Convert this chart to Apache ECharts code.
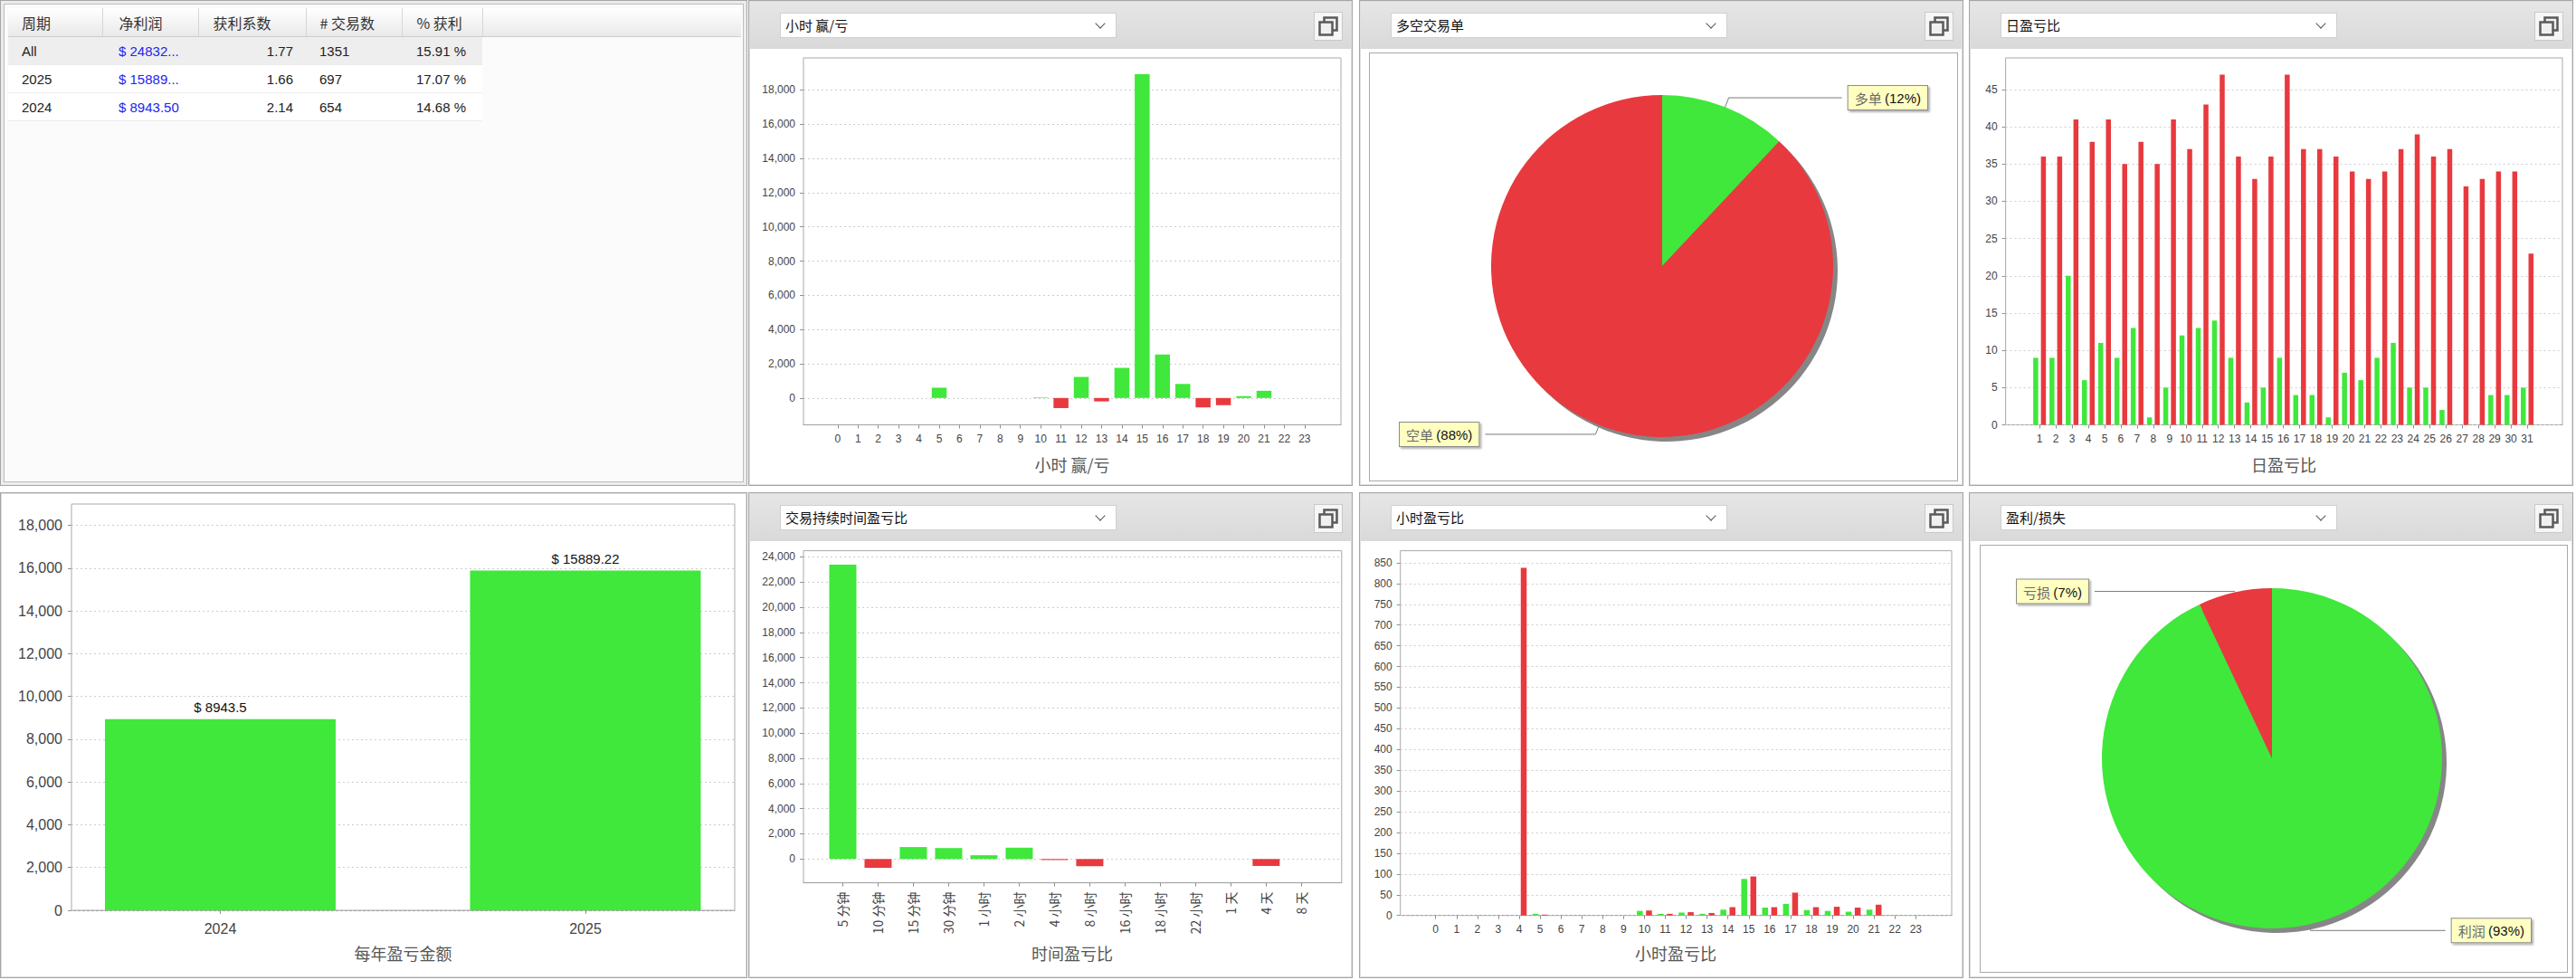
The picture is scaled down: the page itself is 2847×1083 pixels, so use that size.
<!DOCTYPE html>
<html>
<head>
<meta charset="utf-8">
<title>交易统计</title>
<script src="https://cdn.jsdelivr.net/npm/echarts@6.0.0/dist/echarts.min.js"></script>
<style>
  html, body { margin: 0; padding: 0; background: #fff; }
  body { width: 2847px; height: 1083px; position: relative; overflow: hidden;
         font-family: "Noto Sans CJK SC", "Liberation Sans", sans-serif; }
  .panel { position: absolute; box-sizing: border-box; border: 1px solid #a6a6a6;
           box-shadow: inset 0 0 0 1px #dedede; background: #fff; }
  .head { position: absolute; left: 1px; right: 1px; top: 1px; height: 52px;
          background: linear-gradient(#e6e6e6, #d9d9d9); }
  .dropdown { position: absolute; left: 34px; top: 13px; width: 372px; height: 28px; box-sizing: border-box;
              background: #fff; border: 1px solid #d0d0d0; font-size: 15px; line-height: 26px;
              padding-left: 5px; color: #111; }
  .dropdown .arrow { position: absolute; right: 13px; top: 7px; width: 7px; height: 7px;
                     border-right: 1px solid #555; border-bottom: 1px solid #555; transform: rotate(45deg); }
  .icon-btn { position: absolute; right: 10px; top: 12px; width: 32px; height: 32px; box-sizing: border-box;
              background: #f6f6f6; border: 1px solid #c9c9c9; }
  .chart { position: absolute; }
  .pie-box { position: absolute; border: 1px solid #a9a9a9; background: #fff; }
  #tablePanel { background: #fbfbfb; box-shadow: inset 0 0 0 3px #ececec, inset 0 0 0 4px #bdbdbd; }
  #stats { position: absolute; left: 8px; top: 8px; border-collapse: collapse; table-layout: fixed;
           font-size: 15px; color: #222; font-family: "Liberation Sans", "Noto Sans CJK SC", sans-serif; }
  #stats th { height: 31px; padding: 0; font-weight: normal; text-align: left; color: #333; font-size: 16px;
              font-family: "Noto Sans CJK SC", sans-serif;
              background: linear-gradient(#ffffff, #e9e9e9); border-right: 1px solid #d6d6d6;
              border-bottom: 1px solid #cdcdcd; }
  #stats th.fill { border-right: none; }
  #stats td { height: 30px; padding: 0; background: #fff; border-bottom: 1px solid #ececec; }
  #stats tr.sel td { background: #eeeeee; }
  #stats td.fill, #stats tr.sel td.fill { background: transparent; border-bottom: none; }
  #stats .c1 { padding-left: 15px; }
  #stats .c2 { padding-left: 18px; }
  #stats .c3 { padding-right: 14px; text-align: right; }
  #stats th.c3 { padding-left: 16px; padding-right: 0; text-align: left; }
  #stats .c4 { padding-left: 15px; }
  #stats .c5 { padding-left: 16px; }
  #stats td.c2 { color: #2424f0; }
</style>
</head>
<body>

<div class="panel" id="tablePanel" style="left:0;top:0;width:826px;height:537px">
  <table id="stats">
    <colgroup><col style="width:104px"><col style="width:106px"><col style="width:119px"><col style="width:106px"><col style="width:89px"><col style="width:286px"></colgroup>
    <thead><tr>
      <th class="c1">周期</th><th class="c2">净利润</th><th class="c3">获利系数</th><th class="c4"># 交易数</th><th class="c5">% 获利</th><th class="fill"></th>
    </tr></thead>
    <tbody id="statsBody"></tbody>
  </table>
</div>

<div class="panel" style="left:827px;top:0;width:668px;height:537px">
  <div class="head"></div>
  <div class="dropdown">小时 赢/亏<span class="arrow"></span></div>
  <div class="icon-btn"></div>
</div>
<div class="panel" style="left:1502px;top:0;width:668px;height:537px">
  <div class="head"></div>
  <div class="dropdown">多空交易单<span class="arrow"></span></div>
  <div class="icon-btn"></div>
</div>
<div class="panel" style="left:2176px;top:0;width:668px;height:537px">
  <div class="head"></div>
  <div class="dropdown">日盈亏比<span class="arrow"></span></div>
  <div class="icon-btn"></div>
</div>

<div class="panel" style="left:0;top:544px;width:826px;height:537px"></div>
<div class="panel" style="left:827px;top:544px;width:668px;height:537px">
  <div class="head"></div>
  <div class="dropdown">交易持续时间盈亏比<span class="arrow"></span></div>
  <div class="icon-btn"></div>
</div>
<div class="panel" style="left:1502px;top:544px;width:668px;height:537px">
  <div class="head"></div>
  <div class="dropdown">小时盈亏比<span class="arrow"></span></div>
  <div class="icon-btn"></div>
</div>
<div class="panel" style="left:2176px;top:544px;width:668px;height:537px">
  <div class="head"></div>
  <div class="dropdown">盈利/损失<span class="arrow"></span></div>
  <div class="icon-btn"></div>
</div>

<div class="chart" id="hourChart" style="left:827px;top:53px;width:668px;height:484px"></div>
<div class="pie-box" style="left:1513px;top:58px;width:649px;height:472px"><div class="chart" id="sideChart" style="left:0;top:0;width:649px;height:472px"></div></div>
<div class="chart" id="dayChart" style="left:2176px;top:53px;width:668px;height:484px"></div>
<div class="chart" id="yearChart" style="left:0;top:544px;width:826px;height:537px"></div>
<div class="chart" id="durChart" style="left:827px;top:597px;width:668px;height:484px"></div>
<div class="chart" id="hourRatioChart" style="left:1502px;top:597px;width:668px;height:484px"></div>
<div class="pie-box" style="left:2188px;top:602px;width:648px;height:471px"><div class="chart" id="plChart" style="left:0;top:0;width:648px;height:471px"></div></div>

<script>
  // 表格数据
  const tblPeriods = ['All', '2025', '2024'];
  const tblNetProfit = ['$ 24832...', '$ 15889...', '$ 8943.50'];
  const tblProfitFactor = ['1.77', '1.66', '2.14'];
  const tblTrades = ['1351', '697', '654'];
  const tblWinPct = ['15.91 %', '17.07 %', '14.68 %'];

  // 小时 赢/亏
  const hours = ['0', '1', '2', '3', '4', '5', '6', '7', '8', '9', '10', '11',
                 '12', '13', '14', '15', '16', '17', '18', '19', '20', '21', '22', '23'];
  const hourPnl = [0, 0, 0, 0, 0, 600, 0, 0, 0, 0, 30, -590,
                   1230, -200, 1760, 18920, 2540, 820, -550, -420, 110, 420, 0, 0];
  const pnlTicks = [0, 2000, 4000, 6000, 8000, 10000, 12000, 14000, 16000, 18000];

  // 多空交易单
  const sideNames = ['多单', '空单'];
  const sidePct = [12, 88];

  // 日盈亏比
  const days = ['1', '2', '3', '4', '5', '6', '7', '8', '9', '10', '11', '12', '13', '14', '15', '16',
                '17', '18', '19', '20', '21', '22', '23', '24', '25', '26', '27', '28', '29', '30', '31'];
  const dayWins = [9, 9, 20, 6, 11, 9, 13, 1, 5, 12, 13, 14, 9, 3, 5, 9,
                   4, 4, 1, 7, 6, 9, 11, 5, 5, 2, 0, 0, 4, 4, 5];
  const dayLosses = [36, 36, 41, 38, 41, 35, 38, 35, 41, 37, 43, 47, 36, 33, 36, 47,
                     37, 37, 36, 34, 33, 34, 37, 39, 36, 37, 32, 33, 34, 34, 23];
  const dayTicks = [0, 5, 10, 15, 20, 25, 30, 35, 40, 45];

  // 每年盈亏金额
  const years = ['2024', '2025'];
  const yearPnl = [8943.5, 15889.22];
  const yearTicks = [0, 2000, 4000, 6000, 8000, 10000, 12000, 14000, 16000, 18000];

  // 交易持续时间盈亏比
  const durations = ['5 分钟', '10 分钟', '15 分钟', '30 分钟', '1 小时', '2 小时', '4 小时',
                     '8 小时', '16 小时', '18 小时', '22 小时', '1 天', '4 天', '8 天'];
  const durationPnl = [23390, -700, 950, 870, 300, 900, -80, -570, 0, 0, 0, 0, -550, 0];
  const durTicks = [0, 2000, 4000, 6000, 8000, 10000, 12000, 14000, 16000, 18000, 20000, 22000, 24000];

  // 小时盈亏比
  const hourWins = [0, 0, 0, 0, 0, 4, 0, 0, 0, 0, 11, 4, 7, 4, 14, 88, 19, 28, 13, 11, 9, 14, 0, 0];
  const hourLosses = [0, 0, 0, 0, 838, 2, 0, 0, 0, 0, 12, 4, 8, 6, 20, 94, 20, 55, 20, 21, 19, 26, 0, 0];
  const ratioTicks = [0, 50, 100, 150, 200, 250, 300, 350, 400, 450, 500, 550, 600, 650, 700, 750, 800, 850];

  // 盈利/损失
  const plNames = ['利润', '亏损'];
  const plPct = [93, 7];

  const GREEN = '#3fe83b';
  const RED = '#e8393e';
  const CJK = '"Noto Sans CJK SC", sans-serif';
  const LAT = '"Liberation Sans", Arial, sans-serif';

  // table
  const body = document.getElementById('statsBody');
  tblPeriods.forEach((p, i) => {
    const tr = document.createElement('tr');
    if (i === 0) tr.className = 'sel';
    tr.innerHTML = '<td class="c1">' + p + '</td><td class="c2">' + tblNetProfit[i] + '</td><td class="c3">' +
      tblProfitFactor[i] + '</td><td class="c4">' + tblTrades[i] + '</td><td class="c5">' + tblWinPct[i] +
      '</td><td class="fill"></td>';
    body.appendChild(tr);
  });

  // restore-window icon
  document.querySelectorAll('.icon-btn').forEach(el => {
    el.innerHTML = '<svg width="30" height="30" viewBox="0 0 30 30">' +
      '<rect x="10.5" y="5.5" width="14" height="14" fill="#f0f0f0" stroke="#5a5a5a" stroke-width="2.5"/>' +
      '<rect x="5.5" y="10.5" width="14" height="14" fill="#f0f0f0" stroke="#5a5a5a" stroke-width="2.5"/></svg>';
  });

  function makeBarChart(id, o) {
    const chart = echarts.init(document.getElementById(id), null, { renderer: 'svg' });
    const idx = o.cats.map((c, i) => i);
    // dashed grid lines at the tick values, kept under the bars
    const gridLines = {
      type: 'line', data: [], silent: true,
      markLine: {
        silent: true, symbol: ['none', 'none'], z: 1, animation: false,
        label: { show: false },
        lineStyle: { color: '#cdcdcd', type: [2, 3], width: 1 },
        data: o.yTicks.map(v => ({ yAxis: v }))
      }
    };
    chart.setOption({
      animation: false,
      backgroundColor: 'transparent',
      textStyle: { fontFamily: LAT },
      title: {
        text: o.title, left: o.titleX, top: o.titleY, textAlign: 'center', padding: 0,
        textStyle: { fontFamily: CJK, fontSize: 18, fontWeight: 'normal', color: '#555' }
      },
      grid: {
        left: o.grid[0], top: o.grid[1], width: o.grid[2], height: o.grid[3],
        show: true, borderColor: '#a9a9a9', borderWidth: 1,
        outerBoundsMode: 'none'
      },
      xAxis: {
        type: 'value', min: o.xMin, max: o.xMax,
        axisLine: { show: true, onZero: false, lineStyle: { color: '#a0a0a0' } },
        axisTick: { show: true, customValues: idx, length: 4, lineStyle: { color: '#909090' } },
        axisLabel: {
          customValues: idx, formatter: v => o.cats[Math.round(v)],
          color: '#444', fontSize: o.xFont || 12, margin: o.xMargin || 9, rotate: o.rotate || 0,
          fontFamily: o.rotate ? CJK : LAT
        },
        splitLine: { show: false }
      },
      yAxis: {
        type: 'value', min: o.yMin, max: o.yMax,
        axisLine: { show: false, onZero: false },
        axisTick: { show: true, customValues: o.yTicks, length: 4, lineStyle: { color: '#909090' } },
        axisLabel: {
          customValues: o.yTicks, formatter: v => v.toLocaleString('en-US'),
          color: '#444', fontSize: o.yFont || 12, margin: o.yMargin || 9
        },
        splitLine: { show: false }
      },
      series: [gridLines].concat(o.series)
    });
    return chart;
  }

  const signColor = v => (v >= 0 ? GREEN : RED);

  makeBarChart('hourChart', {
    cats: hours, xMin: -1.685, xMax: 24.79, yMin: -1570, yMax: 19870, yTicks: pnlTicks,
    grid: [61, 11, 594, 405.5], title: '小时 赢/亏', titleX: 358, titleY: 451,
    series: [{
      type: 'bar', barWidth: 16.5, z: 2,
      data: hourPnl.map((v, i) => ({ value: [i, v], itemStyle: { color: signColor(v) } }))
    }]
  });

  makeBarChart('dayChart', {
    cats: days, xMin: -2.09, xMax: 32.17, yMin: 0, yMax: 49.25, yTicks: dayTicks,
    grid: [40.6, 11, 615.4, 405.5], title: '日盈亏比', titleX: 348, titleY: 451,
    series: [
      { type: 'bar', barWidth: 5.5, barGap: '55%', z: 2, itemStyle: { color: GREEN },
        data: dayWins.map((v, i) => [i, v]) },
      { type: 'bar', barWidth: 5.5, barGap: '55%', z: 2, itemStyle: { color: RED },
        data: dayLosses.map((v, i) => [i, v]) }
    ]
  });

  makeBarChart('yearChart', {
    cats: years, xMin: -0.4077, xMax: 1.409, yMin: 0, yMax: 19000, yTicks: yearTicks,
    grid: [79, 13, 733, 449], title: '每年盈亏金额', titleX: 445.5, titleY: 500,
    xFont: 16, yFont: 16, xMargin: 12, yMargin: 10,
    series: [{
      type: 'bar', barWidth: 255, z: 2, itemStyle: { color: GREEN },
      label: { show: true, position: 'top', distance: 6, fontSize: 15, color: '#111',
               formatter: p => '$ ' + p.value[1] },
      data: yearPnl.map((v, i) => [i, v])
    }]
  });

  makeBarChart('durChart', {
    cats: durations, xMin: -1.115, xMax: 14.14, yMin: -1890, yMax: 24490, yTicks: durTicks,
    grid: [61, 11.6, 594.8, 367], title: '时间盈亏比', titleX: 358, titleY: 447,
    rotate: 90, xFont: 14, xMargin: 10,
    series: [{
      type: 'bar', barWidth: 30, z: 2,
      data: durationPnl.map((v, i) => ({ value: [i, v], itemStyle: { color: signColor(v) } }))
    }]
  });

  makeBarChart('hourRatioChart', {
    cats: hours, xMin: -1.69, xMax: 24.72, yMin: 0, yMax: 879, yTicks: ratioTicks,
    grid: [45.7, 11.6, 609.3, 403.1], title: '小时盈亏比', titleX: 350, titleY: 447,
    series: [
      { type: 'bar', barWidth: 6.5, barGap: '55%', z: 2, itemStyle: { color: GREEN },
        data: hourWins.map((v, i) => [i, v]) },
      { type: 'bar', barWidth: 6.5, barGap: '55%', z: 2, itemStyle: { color: RED },
        data: hourLosses.map((v, i) => [i, v]) }
    ]
  });

  function makePie(id, names, values, colors, center, radius, edge, lineLens) {
    const chart = echarts.init(document.getElementById(id), null, { renderer: 'svg' });
    chart.setOption({
      animation: false,
      backgroundColor: 'transparent',
      series: [
        {
          // 阴影
          type: 'pie', silent: true, radius: radius, center: [center[0] + 5, center[1] + 5],
          startAngle: 90, itemStyle: { color: '#868686' },
          label: { show: false }, labelLine: { show: false },
          data: values.map(v => ({ value: v }))
        },
        {
          type: 'pie', radius: radius, center: center, startAngle: 90, clockwise: true,
          itemStyle: { borderWidth: 0 },
          label: {
            alignTo: 'edge', edgeDistance: edge,
            formatter: '{n|{b}} {p|({d}%)}',
            backgroundColor: '#ffffc2', borderColor: '#8c8c8c', borderWidth: 1,
            padding: [6, 7, 5, 7],
            shadowColor: 'rgba(0,0,0,0.3)', shadowOffsetX: 2, shadowOffsetY: 2, shadowBlur: 2,
            rich: {
              n: { fontFamily: CJK, fontSize: 15, color: '#6a6a6a' },
              p: { fontFamily: LAT, fontSize: 15, color: '#111' }
            }
          },
          labelLine: { length2: 10, lineStyle: { color: '#7a7a7a', width: 1 } },
          data: names.map((n, i) => ({
            name: n, value: values[i], itemStyle: { color: colors[i] }, labelLine: { length: lineLens[i] }
          }))
        }
      ]
    });
    return chart;
  }

  makePie('sideChart', sideNames, sidePct, [GREEN, RED], [323, 235], 189, 33, [11, 11]);
  makePie('plChart', plNames, plPct, [GREEN, RED], [322, 235], 188, 40, [7, 1]);
</script>
</body>
</html>
